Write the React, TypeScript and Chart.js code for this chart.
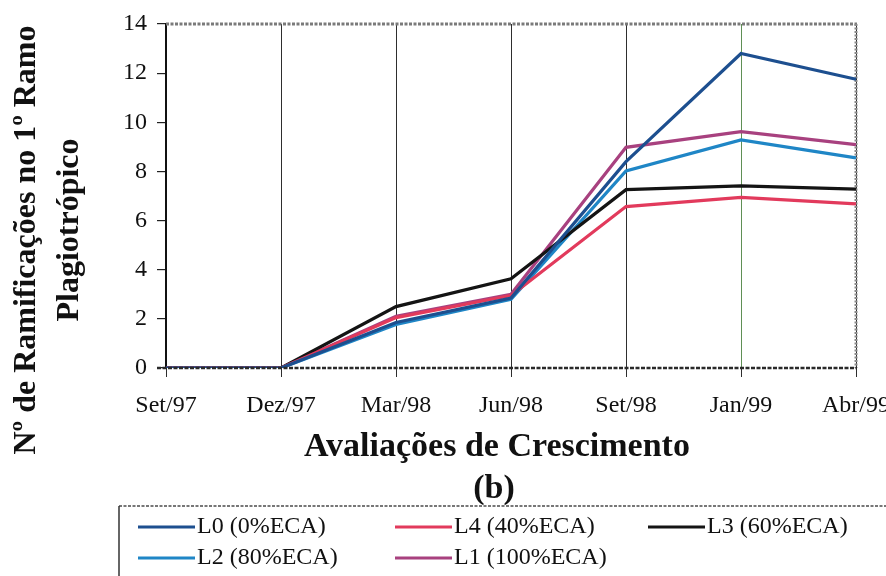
import { useEffect, useRef } from 'react';
import { Chart, registerables } from 'chart.js';

Chart.register(...registerables);

const categories = ['Set/97', 'Dez/97', 'Mar/98', 'Jun/98', 'Set/98', 'Jan/99', 'Abr/99'];
const seriesL0 = [0, 0, 1.85, 2.85, 8.4, 12.8, 11.75];
const seriesL4 = [0, 0, 2.05, 2.95, 6.57, 6.94, 6.68];
const seriesL3 = [0, 0, 2.5, 3.63, 7.26, 7.41, 7.28];
const seriesL2 = [0, 0, 1.77, 2.8, 8.02, 9.28, 8.55];
const seriesL1 = [0, 0, 2.1, 3.0, 8.98, 9.62, 9.09];
const seriesLabels = ['L0 (0%ECA)', 'L4 (40%ECA)', 'L3 (60%ECA)', 'L2 (80%ECA)', 'L1 (100%ECA)'];
const seriesColors = ['#1d4f8f', '#e23a5c', '#141414', '#1f86c6', '#a8417f'];
const yTickValues = [0, 2, 4, 6, 8, 10, 12, 14];
const yTitleLines = ['Nº de Ramificações no 1º Ramo', 'Plagiotrópico'];
const xTitle = 'Avaliações de Crescimento';
const panelLabel = '(b)';

const SERIF = "'Liberation Serif', 'Times New Roman', serif";

const decorPlugin = {
  id: 'decor',
  beforeDatasetsDraw(chart: any) {
    const { ctx, chartArea } = chart;
    const { left, right, top, bottom } = chartArea;
    ctx.save();
    ctx.strokeStyle = '#7a7a7a';
    ctx.lineWidth = 3;
    ctx.setLineDash([3, 1.5]);
    ctx.beginPath();
    ctx.moveTo(left, top);
    ctx.lineTo(right + 1, top);
    ctx.stroke();
    ctx.strokeStyle = '#8a8a8a';
    ctx.lineWidth = 3;
    ctx.setLineDash([2, 1.5]);
    ctx.beginPath();
    ctx.moveTo(right, top);
    ctx.lineTo(right, bottom);
    ctx.stroke();
    ctx.restore();
  },
  afterDatasetsDraw(chart: any) {
    const { ctx, chartArea } = chart;
    const { left, right, bottom } = chartArea;
    ctx.save();
    ctx.strokeStyle = '#2a2a2a';
    ctx.lineWidth = 2.5;
    ctx.setLineDash([4, 1.5]);
    ctx.beginPath();
    ctx.moveTo(left - 9, bottom);
    ctx.lineTo(right + 1, bottom);
    ctx.stroke();
    ctx.restore();
  },
  afterDraw(chart: any) {
    const { ctx } = chart;
    ctx.save();
    ctx.fillStyle = '#111';
    ctx.font = `bold 32px ${SERIF}`;
    ctx.textAlign = 'center';
    ctx.textBaseline = 'middle';
    const yPos = [
      { x: 27, y: 240 },
      { x: 70, y: 230 },
    ];
    yTitleLines.forEach((t, i) => {
      ctx.save();
      ctx.translate(yPos[i].x, yPos[i].y);
      ctx.rotate(-Math.PI / 2);
      ctx.fillText(t, 0, 0);
      ctx.restore();
    });
    ctx.font = `bold 34px ${SERIF}`;
    ctx.fillText(xTitle, 497, 447);
    ctx.fillText(panelLabel, 494, 489);

    ctx.strokeStyle = '#777';
    ctx.lineWidth = 2;
    ctx.setLineDash([3, 1.5]);
    ctx.beginPath();
    ctx.moveTo(119, 506);
    ctx.lineTo(886, 506);
    ctx.stroke();
    ctx.setLineDash([]);
    ctx.strokeStyle = '#333';
    ctx.lineWidth = 1.5;
    ctx.beginPath();
    ctx.moveTo(119, 506);
    ctx.lineTo(119, 576);
    ctx.stroke();

    const cols = [138, 395, 648];
    const rows = [527, 558];
    ctx.font = `24px ${SERIF}`;
    ctx.textAlign = 'left';
    ctx.textBaseline = 'middle';
    chart.data.datasets.forEach((ds: any, i: number) => {
      const cx = cols[i % 3];
      const cy = rows[Math.floor(i / 3)];
      ctx.strokeStyle = ds.borderColor;
      ctx.lineWidth = 3;
      ctx.beginPath();
      ctx.moveTo(cx, cy);
      ctx.lineTo(cx + 57, cy);
      ctx.stroke();
      ctx.fillStyle = '#111';
      ctx.fillText(ds.label, cx + 59, cy);
    });
    ctx.restore();
  },
};

export default function App() {
  const canvasRef = useRef<HTMLCanvasElement | null>(null);

  useEffect(() => {
    document.body.style.margin = '0';
    const canvas = canvasRef.current;
    if (!canvas) return;
    const seriesData = [seriesL0, seriesL4, seriesL3, seriesL2, seriesL1];
    const chart = new Chart(canvas, {
      type: 'line',
      data: {
        labels: categories,
        datasets: seriesData.map((d, i) => ({
          label: seriesLabels[i],
          data: d,
          borderColor: seriesColors[i],
          backgroundColor: seriesColors[i],
          borderWidth: 3.2,
          pointRadius: 0,
          tension: 0,
          fill: false,
        })),
      },
      options: {
        responsive: false,
        animation: false,
        devicePixelRatio: 1,
        layout: { padding: { left: 0, top: 24, right: 30, bottom: 0 } },
        plugins: {
          legend: { display: false },
          tooltip: { enabled: false },
          title: { display: false },
        },
        font: { family: SERIF },
        scales: {
          x: {
            type: 'category',
            offset: false,
            grid: {
              display: true,
              drawOnChartArea: true,
              drawTicks: true,
              tickLength: 9,
              lineWidth: 1,
              color: (c: any) => (c.index === 5 ? '#5f8f55' : '#2e2e2e'),
              tickColor: '#2e2e2e',
            },
            border: { display: false },
            ticks: {
              font: { family: SERIF, size: 24 },
              color: '#111',
              padding: 14,
              maxRotation: 0,
              autoSkip: false,
            },
            afterFit: (scale: any) => {
              scale.height = 208;
              scale.paddingLeft = 0;
              scale.paddingRight = 0;
            },
          },
          y: {
            min: 0,
            max: 14,
            afterBuildTicks: (scale: any) => {
              scale.ticks = yTickValues.map((v) => ({ value: v }));
            },
            grid: {
              display: true,
              drawOnChartArea: false,
              drawTicks: true,
              tickLength: 9,
              tickColor: '#222',
              lineWidth: 1.2,
            },
            border: { display: true, color: '#111', width: 2 },
            ticks: {
              font: { family: SERIF, size: 24 },
              color: '#111',
              padding: 10,
            },
            afterFit: (scale: any) => {
              scale.width = 166;
              scale.paddingTop = 0;
              scale.paddingBottom = 0;
            },
          },
        },
      } as any,
      plugins: [decorPlugin],
    });
    return () => chart.destroy();
  }, []);

  return (
    <div style={{ position: 'fixed', left: 0, top: 0, width: 886, height: 576, background: '#fff' }}>
      <canvas ref={canvasRef} width={886} height={576} style={{ display: 'block', width: 886, height: 576 }} />
    </div>
  );
}
